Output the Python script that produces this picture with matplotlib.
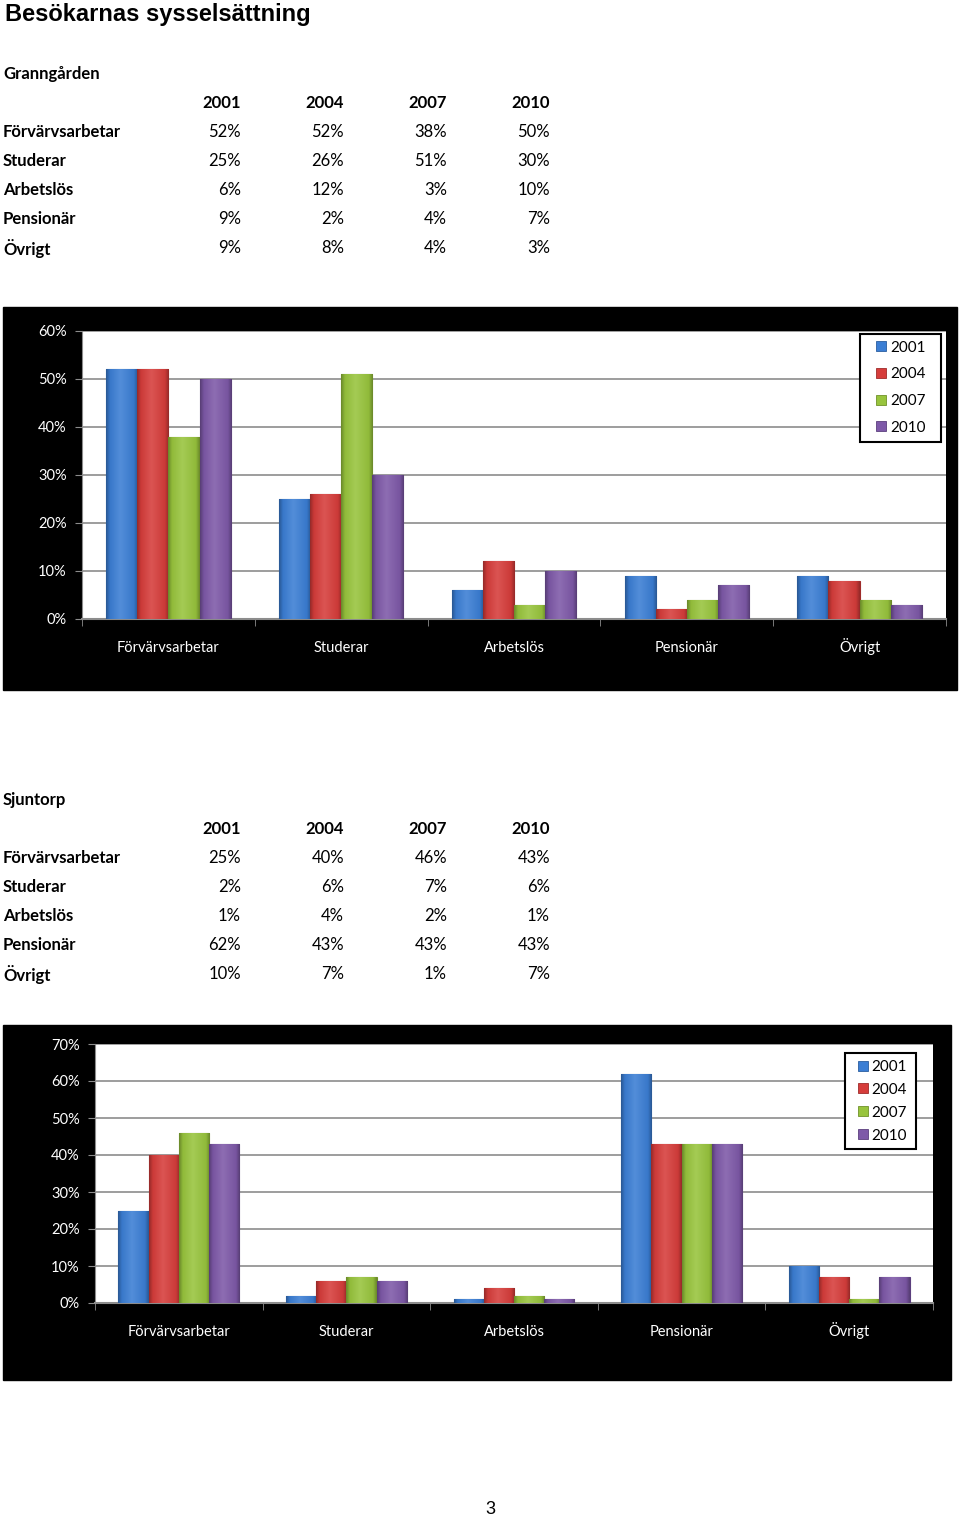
import matplotlib
matplotlib.use("Agg")
import matplotlib.pyplot as plt
import numpy as np
from matplotlib.patches import Rectangle
from matplotlib.lines import Line2D
from matplotlib.colors import LinearSegmentedColormap, to_rgb
from matplotlib.ticker import MultipleLocator, FixedLocator, PercentFormatter

W, H = 960, 1521

years = ["2001", "2004", "2007", "2010"]
categories = ["Förvärvsarbetar", "Studerar", "Arbetslös", "Pensionär", "Övrigt"]

# Granngården, percent per category, one list per year
gr_2001 = [52, 25, 6, 9, 9]
gr_2004 = [52, 26, 12, 2, 8]
gr_2007 = [38, 51, 3, 4, 4]
gr_2010 = [50, 30, 10, 7, 3]

# Sjuntorp
sj_2001 = [25, 2, 1, 62, 10]
sj_2004 = [40, 6, 4, 43, 7]
sj_2007 = [46, 7, 2, 43, 1]
sj_2010 = [43, 6, 1, 43, 7]

colors = ["#3b7ed4", "#d63d3b", "#98c43d", "#7e59a8"]
edges = ["#2a5e9f", "#9e2b2a", "#6f9128", "#5b3f7d"]

TXT = ["Lato", "DejaVu Sans"]


def fx(px):
    return px / W


def fy(py):
    return 1 - py / H


def shade(c, f):
    c = np.array(to_rgb(c))
    if f > 0:
        return tuple(c + (1 - c) * f)
    return tuple(c * (1 + f))


def bar_cmap(c):
    # darker sides, lighter middle: a rough bevel look
    return LinearSegmentedColormap.from_list(
        "b", [(0, shade(c, -0.3)), (0.12, shade(c, -0.05)), (0.45, shade(c, 0.12)),
              (0.88, shade(c, -0.05)), (1, shade(c, -0.3))])


def table(fig, name, top, series):
    fig.text(fx(3), fy(top), name, fontsize=12, fontweight="bold", family=TXT, va="center")
    col_right = [241, 344, 447, 550]
    for x, y in zip(col_right, years):
        fig.text(fx(x), fy(top + 29), y, fontsize=12, fontweight="bold", family=TXT,
                 ha="right", va="center")
    for i, cat in enumerate(categories):
        yy = top + 58 + 29 * i
        fig.text(fx(3), fy(yy), cat, fontsize=12, fontweight="bold", family=TXT, va="center")
        for x, s in zip(col_right, series):
            fig.text(fx(x), fy(yy), f"{s[i]}%", fontsize=12, family=TXT,
                     ha="right", va="center")


def chart(fig, frame, plot, series, ymax, leg_box, leg_spacing, hlen, hpad):
    fl, ft, fr, fb = frame
    fig.patches.append(Rectangle((fx(fl), fy(fb)), fx(fr - fl), (fb - ft) / H,
                                 transform=fig.transFigure, color="black", zorder=-1))
    pl, pt, pr, pb = plot
    ax = fig.add_axes([fx(pl), fy(pb), fx(pr - pl), (pb - pt) / H])
    x = np.arange(len(categories))
    w = 0.18
    grad = np.linspace(0, 1, 64).reshape(1, -1)
    for i, s in enumerate(series):
        bars = ax.bar(x + (i - 1.5) * w, s, width=w, color=colors[i], edgecolor=edges[i],
                      linewidth=0.8, zorder=3)
        cm = bar_cmap(colors[i])
        for b in bars:
            im = ax.imshow(grad, cmap=cm, aspect="auto", zorder=3.5,
                           extent=[b.get_x(), b.get_x() + b.get_width(), 0, b.get_height()])
            im.set_clip_path(b)
    ax.set_xlim(-0.5, len(categories) - 0.5)
    ax.set_ylim(0, ymax)
    ax.set_aspect("auto")
    ax.yaxis.set_major_locator(MultipleLocator(10))
    ax.yaxis.set_major_formatter(PercentFormatter(decimals=0))
    ax.grid(axis="y", color="#8c8c8c", linewidth=1.2, zorder=0)
    ax.set_xticks(x)
    ax.set_xticklabels(categories)
    ax.xaxis.set_minor_locator(FixedLocator(np.arange(-0.5, len(categories), 1.0)))
    ax.tick_params(axis="x", which="major", length=0, pad=23.5, labelsize=10.5,
                   labelcolor="white")
    ax.tick_params(axis="x", which="minor", length=5, color="#8c8c8c", direction="out")
    ax.tick_params(axis="y", length=5, color="#8c8c8c", labelsize=10.5, labelcolor="white",
                   pad=6)
    for lab in ax.get_xticklabels():
        lab.set_family(TXT)
        lab.set_va("baseline")
    for lab in ax.get_yticklabels():
        lab.set_family(TXT)
    for side in ["top", "right"]:
        ax.spines[side].set_visible(False)
    ax.spines["left"].set_color("#8c8c8c")
    ax.spines["bottom"].set_color("#8c8c8c")
    ax.spines["bottom"].set_linewidth(1.5)

    handles = [Line2D([], [], linestyle="none", marker="s", markersize=7,
                      markerfacecolor=colors[i], markeredgecolor=edges[i],
                      markeredgewidth=0.6) for i in range(len(years))]
    leg = ax.legend(handles, years, loc="upper left", bbox_to_anchor=leg_box,
                    mode="expand", frameon=True, fancybox=False, edgecolor="black",
                    framealpha=1, handlelength=hlen, handletextpad=hpad,
                    labelspacing=leg_spacing, borderpad=0.45, borderaxespad=0,
                    prop={"family": TXT, "size": 11})
    leg.get_frame().set_linewidth(1.5)
    leg.set_zorder(10)
    return ax


fig = plt.figure(figsize=(W / 100, H / 100), dpi=100)

fig.text(fx(5), fy(14), "Besökarnas sysselsättning", fontsize=17, fontweight="bold",
         family="Liberation Sans", va="center")

table(fig, "Granngården", 74, [gr_2001, gr_2004, gr_2007, gr_2010])
chart(fig, (3, 307, 957, 690), (82, 331, 946, 619),
      [gr_2001, gr_2004, gr_2007, gr_2010], 60, (0.9005, 0.99, 0.094, 0), 0.83,
      1.9, -0.35)

table(fig, "Sjuntorp", 800, [sj_2001, sj_2004, sj_2007, sj_2010])
chart(fig, (3, 1025, 951, 1380), (95, 1044, 933, 1303),
      [sj_2001, sj_2004, sj_2007, sj_2010], 70, (0.895, 0.965, 0.085, 0), 0.58,
      1.45, -0.15)

fig.text(fx(490), fy(1510), "3", fontsize=13, family="Liberation Sans",
         ha="center", va="center")

fig.savefig("out.png", dpi=100)
